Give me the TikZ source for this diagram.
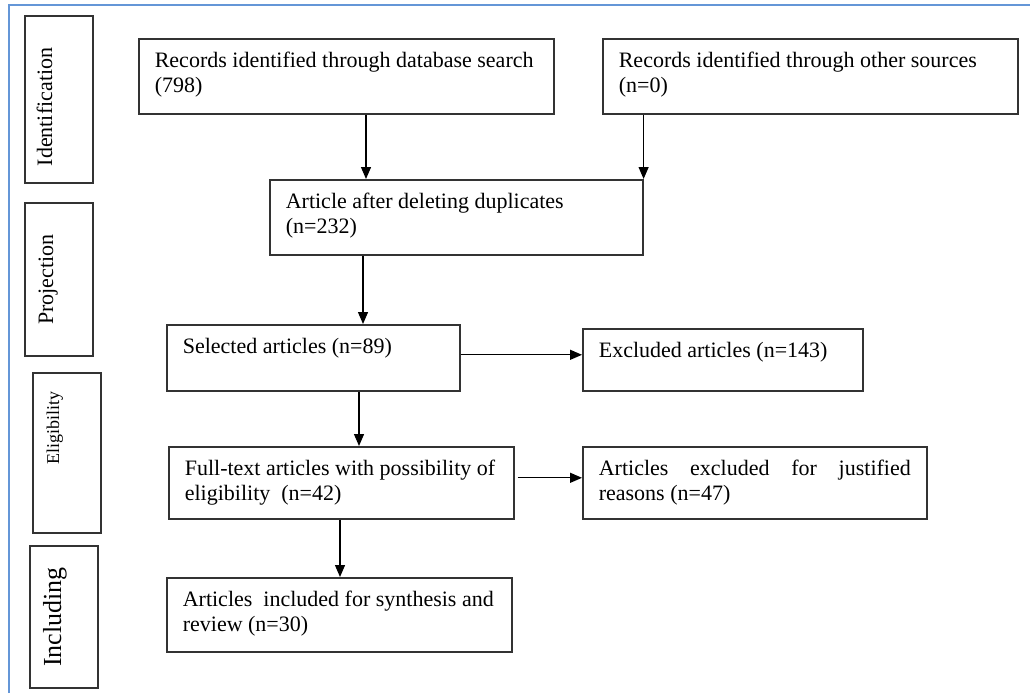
\documentclass[tikz,border=0pt]{standalone}
\usepackage{fontspec}
\setmainfont{Liberation Serif}
\usetikzlibrary{arrows.meta, positioning}
\definecolor{frameblue}{RGB}{100,150,215}
\tikzset{
        ->,  % all connectors are arrows
        >={Triangle[length=12pt,width=10pt]},
        x=1pt, y=-1pt,
        stage/.style={-, draw=black!80, line width=1.6pt, anchor=north west,
                inner xsep=16pt, inner ysep=13pt, font=\fontsize{22}{25}\selectfont},
        phase/.style={-, draw=black!80, line width=1.5pt, rotate=90, inner sep=0pt,
                text height=15pt, font=\fontsize{22}{26}\selectfont},
        flow/.style={line width=1.3pt}
        }
% text of a stage box of width #1 and height #2, set at its top
\newcommand{\stagetext}[3]{\parbox[t][\dimexpr#2-26pt][t]{\dimexpr#1-32pt}{#3}}

\begin{document}
\begin{tikzpicture}
        \useasboundingbox (0,0) rectangle (1030,693);
        \draw[-, frameblue, line width=2pt] (9,693) |- (1030,5);
        % phases
        \node[phase, minimum width=167pt, minimum height=68pt, text depth=29pt] (ident) at (59,99.5) {Identification\hspace*{15pt}};
        \node[phase, minimum width=153pt, minimum height=68pt, text depth=27pt] (proj) at (59,279.5) {Projection};
        \node[phase, minimum width=160pt, minimum height=68pt, text depth=31pt, font=\fontsize{18}{22}\selectfont] (elig) at (67,453) {\hspace*{50pt}Eligibility};
        \node[phase, minimum width=142pt, minimum height=68pt, text depth=21pt, font=\fontsize{26}{30}\selectfont] (incl) at (64,617) {Including};
        % stages
        \node[stage] (rec1) at (138,38) {\stagetext{415pt}{75pt}{Records identified through database search\\(798)}};
        \node[stage] (rec2) at (602,38) {\stagetext{415pt}{75pt}{Records identified through other sources\\(n=0)}};
        \node[stage] (dup) at (269,179) {\stagetext{373pt}{75pt}{Article after deleting duplicates\\(n=232)}};
        \node[stage] (sel) at (166,324) {\stagetext{293pt}{66pt}{Selected articles (n=89)}};
        \node[stage] (excl) at (582,328) {\stagetext{280pt}{62pt}{Excluded articles (n=143)}};
        \node[stage] (full) at (168,446) {\stagetext{345pt}{72pt}{Full-text articles with possibility of\\eligibility\ \ (n=42)}};
        \node[stage] (just) at (582,446) {\stagetext{344pt}{72pt}{Articles\hfill excluded\hfill for\hfill justified\\reasons (n=47)}};
        \node[stage] (synth) at (166,577) {\stagetext{345pt}{74pt}{Articles\ \ included for synthesis and\\review (n=30)}};
        % connectors
        \draw[flow] ([xshift=97pt]dup.north west |- rec1.south) -- ([xshift=97pt]dup.north west);
        \draw[flow] (dup.north east |- rec2.south) -- (dup.north east);
        \draw[flow] ([xshift=197pt]sel.north west |- dup.south) -- ([xshift=197pt]sel.north west);
        \draw[flow] ([xshift=191pt]full.north west |- sel.south) -- ([xshift=191pt]full.north west);
        \draw[flow] ([xshift=174pt]synth.north west |- full.south) -- ([xshift=174pt]synth.north west);
        \draw[flow] ([yshift=3pt]sel.east) -- ([yshift=3pt]sel.east -| excl.west);
        \draw[flow] ([shift={(3pt,5pt)}]full.east) -- ([yshift=5pt]full.east -| just.west);
\end{tikzpicture}
\end{document}
